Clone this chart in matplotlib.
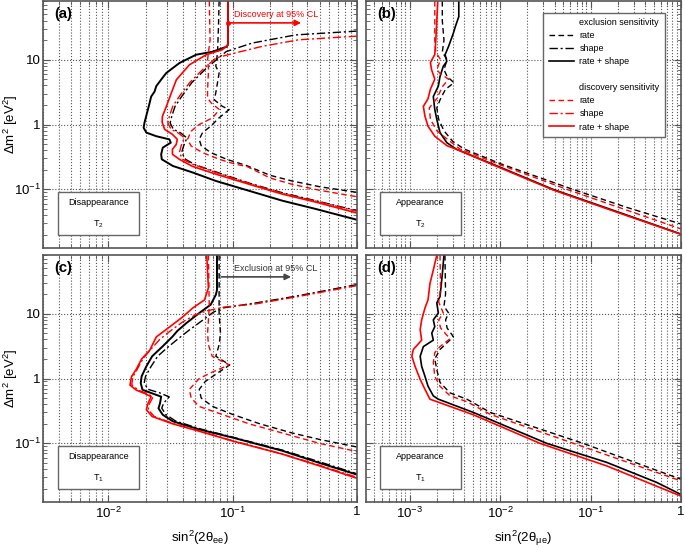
import numpy as np
import matplotlib
matplotlib.use("Agg")
import matplotlib.pyplot as plt
from matplotlib.lines import Line2D
from matplotlib.patches import Rectangle
from matplotlib.ticker import LogLocator, FuncFormatter, NullFormatter

plt.rcParams["font.family"] = ["Liberation Sans", "DejaVu Sans"]
plt.rcParams["mathtext.fontset"] = "custom"
plt.rcParams["mathtext.rm"] = "Liberation Sans"
plt.rcParams["mathtext.it"] = "Liberation Sans:italic"
plt.rcParams["mathtext.bf"] = "Liberation Sans:bold"

# contours as (sin^2 2theta, dm^2 [eV^2]) pairs
# (a) disappearance, T2
a_excl_rate = [(0.078, 80), (0.077, 30), (0.0757, 12.6), (0.0734, 7.9), (0.078, 6.2), (0.0757, 4.4),
               (0.0734, 3.1), (0.0713, 2.4), (0.083, 1.9), (0.094, 1.7), (0.078, 1.27), (0.0667, 0.94),
               (0.0574, 0.75), (0.054, 0.59), (0.056, 0.47), (0.0667, 0.37), (0.09, 0.29), (0.128, 0.235),
               (0.2, 0.165), (0.3, 0.135), (0.5, 0.11), (1.0, 0.09)]
a_excl_shape = [(1.0, 27.5), (0.32, 24.0), (0.144, 18.0), (0.089, 13.3), (0.078, 10.8), (0.06, 7.0),
                (0.047, 4.4), (0.039, 2.7), (0.0345, 1.9), (0.0325, 1.34), (0.0315, 1.06), (0.0335, 0.84),
                (0.038, 0.75), (0.043, 0.62), (0.0405, 0.47), (0.039, 0.37), (0.042, 0.29), (0.05, 0.24),
                (0.083, 0.172), (0.136, 0.125), (0.25, 0.089), (0.465, 0.067), (1.0, 0.047)]
a_excl_both = [(0.092, 80), (0.092, 17), (0.089, 15.7), (0.0687, 13.2), (0.051, 11.9), (0.0374, 8.85),
               (0.0293, 6.2), (0.026, 4.6), (0.0244, 3.9), (0.0236, 3.2), (0.0222, 2.7), (0.0215, 2.1),
               (0.0209, 1.7), (0.0196, 1.06), (0.0193, 0.89), (0.0203, 0.75), (0.0244, 0.66), (0.0311, 0.59),
               (0.0319, 0.525), (0.0275, 0.44), (0.0267, 0.347), (0.027, 0.291), (0.0331, 0.23),
               (0.0479, 0.182), (0.0734, 0.135), (0.136, 0.095), (0.251, 0.067), (0.465, 0.05), (1.0, 0.034)]
a_disc_rate = [(0.065, 80), (0.066, 20), (0.063, 10), (0.0642, 7.0), (0.063, 3.45), (0.063, 2.57),
               (0.0672, 2.16), (0.0782, 1.7), (0.0693, 1.27), (0.054, 1.0), (0.0465, 0.79), (0.0435, 0.59),
               (0.0465, 0.466), (0.0574, 0.369), (0.0782, 0.291), (0.106, 0.244), (0.131, 0.225),
               (0.2, 0.15), (0.3, 0.12), (0.5, 0.097), (1.0, 0.077)]
a_disc_shape = [(1.0, 23), (0.34, 20.2), (0.173, 16), (0.094, 12), (0.0736, 10.6), (0.0574, 7.0),
                (0.045, 4.37), (0.0374, 2.72), (0.0331, 1.91), (0.0311, 1.34), (0.0302, 1.06), (0.0321, 0.84),
                (0.0362, 0.75), (0.041, 0.627), (0.0386, 0.466), (0.0374, 0.369), (0.0398, 0.291),
                (0.0479, 0.244), (0.08, 0.172), (0.136, 0.123), (0.25, 0.087), (0.465, 0.066), (1.0, 0.046)]
a_disc_both = [(0.092, 80), (0.092, 17), (0.0826, 14.2), (0.0615, 11.9), (0.045, 8.3), (0.0354, 4.9),
               (0.0323, 3.1), (0.0294, 1.9), (0.0273, 1.33), (0.0272, 1.08), (0.0285, 0.84), (0.0329, 0.705),
               (0.036, 0.59), (0.0353, 0.494), (0.0329, 0.415), (0.0329, 0.347), (0.0374, 0.291),
               (0.0475, 0.227), (0.074, 0.171), (0.136, 0.12), (0.25, 0.0848), (0.465, 0.0638), (1.0, 0.0432)]

# (b) appearance, T2
b_excl_rate = [(0.0023, 80), (0.0023, 40), (0.0024, 20), (0.0023, 13), (0.0026, 10), (0.0024, 7),
               (0.0026, 5.5), (0.0031, 4.4), (0.0025, 3.5), (0.0022, 2.5), (0.002, 1.8), (0.0021, 1.2),
               (0.0024, 0.8), (0.003, 0.55), (0.004, 0.42), (0.01, 0.25), (0.064, 0.1), (0.25, 0.053),
               (1.0, 0.0293)]
b_excl_both = [(0.0035, 80), (0.0035, 46), (0.0032, 32), (0.00305, 25.6), (0.0027, 16), (0.00247, 11.9),
               (0.00258, 9.4), (0.00236, 7.9), (0.00217, 5.5), (0.00208, 3.9), (0.00183, 2.7), (0.0019, 1.7),
               (0.002, 1.2), (0.00217, 0.75), (0.00258, 0.525), (0.0033, 0.415), (0.01, 0.22),
               (0.0386, 0.1), (0.2, 0.045), (1.0, 0.0205)]
b_disc_rate = [(0.0019, 80), (0.0019, 40), (0.0019, 20), (0.00195, 13), (0.0022, 10), (0.002, 7),
               (0.0022, 6), (0.0027, 5.0), (0.0023, 3.8), (0.002, 2.5), (0.00165, 1.8), (0.0017, 1.2),
               (0.002, 0.8), (0.0028, 0.55), (0.0036, 0.42), (0.01, 0.24), (0.055, 0.1), (0.25, 0.048),
               (1.0, 0.0246)]
b_disc_both = [(0.00205, 80), (0.002, 40), (0.00195, 20), (0.0019, 12), (0.0017, 9), (0.00175, 7),
               (0.0019, 5), (0.0017, 3.5), (0.0016, 2.5), (0.00142, 1.9), (0.00148, 1.34), (0.0016, 0.94),
               (0.0019, 0.66), (0.0026, 0.47), (0.0033, 0.415), (0.01, 0.215), (0.0386, 0.098),
               (0.2, 0.044), (1.0, 0.0203)]

# (c) disappearance, T1
c_excl_rate = [(0.078, 80), (0.078, 10), (0.08, 5), (0.078, 3.3), (0.0734, 2.2), (0.095, 1.62),
               (0.078, 1.26), (0.0604, 0.9), (0.054, 0.68), (0.056, 0.5), (0.0693, 0.37), (0.1, 0.28),
               (0.166, 0.2), (0.3, 0.145), (0.5, 0.115), (1.0, 0.088)]
c_excl_shape = [(1.0, 28), (0.32, 18.5), (0.15, 14.5), (0.083, 12.2), (0.07, 10.5), (0.058, 8.0),
                (0.045, 5.6), (0.036, 4.0), (0.03, 3.0), (0.025, 2.2), (0.022, 1.5), (0.02, 1.08),
                (0.0195, 0.85), (0.021, 0.68), (0.026, 0.6), (0.031, 0.52), (0.028, 0.42), (0.027, 0.35),
                (0.029, 0.28), (0.035, 0.22), (0.056, 0.166), (0.1, 0.125), (0.25, 0.079), (0.5, 0.052),
                (1.0, 0.034)]
c_excl_both = [(0.075, 80), (0.075, 23), (0.0734, 19.5), (0.0667, 13.7), (0.054, 10.2), (0.0424, 7.1),
               (0.036, 5.4), (0.0331, 4.47), (0.0275, 3.14), (0.0226, 2.2), (0.0203, 1.54), (0.0186, 1.08),
               (0.0183, 0.85), (0.0189, 0.67), (0.0226, 0.59), (0.0267, 0.525), (0.0261, 0.41),
               (0.0254, 0.347), (0.0275, 0.276), (0.0331, 0.219), (0.054, 0.164), (0.1, 0.123),
               (0.251, 0.077), (0.5, 0.05), (1.0, 0.033)]
c_disc_rate = [(0.064, 80), (0.065, 12.7), (0.063, 5.0), (0.064, 3.3), (0.0687, 2.2), (0.094, 1.62),
               (0.069, 1.26), (0.054, 1.0), (0.045, 0.68), (0.0465, 0.5), (0.054, 0.37), (0.078, 0.29),
               (0.136, 0.2), (0.25, 0.145), (0.5, 0.1), (1.0, 0.075)]
c_disc_shape = [(1.0, 27), (0.32, 18), (0.15, 14), (0.085, 12.6), (0.062, 11), (0.05, 9.5), (0.04, 7.5),
                (0.032, 5.5), (0.026, 4.0), (0.022, 2.8), (0.019, 2.0), (0.0172, 1.4), (0.0158, 1.06),
                (0.0155, 0.8), (0.0175, 0.66), (0.0205, 0.59), (0.023, 0.52), (0.0215, 0.41), (0.021, 0.33),
                (0.0235, 0.26), (0.034, 0.2), (0.055, 0.155), (0.1, 0.11), (0.25, 0.069), (0.5, 0.046),
                (1.0, 0.03)]
c_disc_both = [(0.062, 80), (0.064, 25), (0.0596, 16.3), (0.0479, 12.2), (0.0398, 8.9), (0.0311, 6.2),
               (0.0244, 4.37), (0.0216, 2.72), (0.0186, 2.0), (0.0169, 1.4), (0.0154, 1.06), (0.015, 0.79),
               (0.0169, 0.66), (0.0196, 0.59), (0.0222, 0.525), (0.0209, 0.41), (0.0203, 0.33),
               (0.0226, 0.26), (0.0331, 0.2), (0.054, 0.154), (0.1, 0.109), (0.25, 0.0685), (0.5, 0.045),
               (1.0, 0.029)]

# (d) appearance, T1
d_excl_rate = [(0.00246, 80), (0.0025, 20), (0.0024, 13), (0.0027, 10.2), (0.0025, 8), (0.0026, 6),
               (0.00305, 4.4), (0.00217, 2.8), (0.0019, 2.0), (0.002, 1.37), (0.00217, 0.87), (0.0028, 0.6),
               (0.0043, 0.48), (0.0078, 0.3), (0.083, 0.1), (1.0, 0.028)]
d_excl_both = [(0.0024, 80), (0.0023, 40), (0.00217, 18.3), (0.002, 14.6), (0.00208, 10.2), (0.00183, 8.0),
               (0.0019, 6.3), (0.00176, 5.0), (0.00183, 3.9), (0.00142, 3.1), (0.00131, 2.2), (0.00136, 1.54),
               (0.00148, 1.08), (0.0016, 0.76), (0.00183, 0.54), (0.00208, 0.48), (0.00507, 0.3),
               (0.0329, 0.1), (0.151, 0.051), (0.54, 0.025), (1.0, 0.0163)]
d_disc_rate = [(0.00217, 80), (0.0022, 25), (0.0021, 15), (0.00236, 10.2), (0.0021, 8), (0.0022, 6),
               (0.0028, 4.1), (0.00217, 3.1), (0.0019, 2.5), (0.00183, 1.75), (0.0019, 1.08), (0.00217, 0.76),
               (0.0028, 0.54), (0.0043, 0.44), (0.0078, 0.28), (0.065, 0.1), (1.0, 0.0264)]
d_disc_both = [(0.002, 80), (0.00185, 50), (0.00168, 29), (0.0016, 16.3), (0.00148, 12.2), (0.00136, 8),
               (0.00131, 5.66), (0.00136, 3.9), (0.0011, 2.8), (0.00106, 2.2), (0.00115, 1.54), (0.00131, 0.97),
               (0.00148, 0.68), (0.00168, 0.48), (0.002, 0.44), (0.00507, 0.276), (0.0277, 0.1),
               (0.151, 0.045), (1.0, 0.0154)]

panel_tags = ["(a)", "(b)", "(c)", "(d)"]
box_titles = ["Disappearance", "Appearance", "Disappearance", "Appearance"]
box_targets = ["T$_2$", "T$_2$", "T$_1$", "T$_1$"]

DASH = (0, (4, 2.5))
DASHDOT = (0, (6, 2, 1.5, 2))
GRID = "#555555"
FRAME = "#555555"


def log_fmt(v, pos):
    if np.isclose(v, 1):
        return "1"
    if np.isclose(v, 10):
        return "10"
    return r"$10^{%d}$" % round(np.log10(v))


def draw(ax, curves):
    for pts, color, ls, lw in curves:
        p = np.array(pts)
        ax.plot(p[:, 0], p[:, 1], color=color, linestyle=ls, lw=lw)


fig = plt.figure(figsize=(6.85, 5.47), dpi=100)
W, H = 685.0, 547.0
ax_a = fig.add_axes([43 / W, 1 - 248 / H, 314 / W, 247 / H])
ax_b = fig.add_axes([366 / W, 1 - 248 / H, 315 / W, 247 / H])
ax_c = fig.add_axes([43 / W, 1 - 502 / H, 314 / W, 247 / H])
ax_d = fig.add_axes([366 / W, 1 - 502 / H, 315 / W, 247 / H])
axes = [ax_a, ax_b, ax_c, ax_d]

draw(ax_a, [(a_excl_shape, "black", DASHDOT, 1.0), (a_excl_rate, "black", DASH, 1.0),
            (a_excl_both, "black", "-", 1.4), (a_disc_shape, "red", DASHDOT, 1.0),
            (a_disc_rate, "red", DASH, 1.0), (a_disc_both, "red", "-", 1.2)])
draw(ax_b, [(b_excl_rate, "black", DASH, 1.0), (b_excl_both, "black", "-", 1.2),
            (b_disc_rate, "red", DASH, 1.0), (b_disc_both, "red", "-", 1.2)])
draw(ax_c, [(c_excl_shape, "black", DASHDOT, 1.0), (c_excl_rate, "black", DASH, 1.0),
            (c_excl_both, "black", "-", 1.4), (c_disc_shape, "red", DASHDOT, 1.0),
            (c_disc_rate, "red", DASH, 1.0), (c_disc_both, "red", "-", 1.2)])
draw(ax_d, [(d_excl_rate, "black", DASH, 1.0), (d_excl_both, "black", "-", 1.2),
            (d_disc_rate, "red", DASH, 1.0), (d_disc_both, "red", "-", 1.2)])

for i, ax in enumerate(axes):
    ax.set_xscale("log")
    ax.set_yscale("log")
    ax.set_xlim(0.003 if i % 2 == 0 else 3.3e-4, 1.0)
    ax.set_ylim(0.0125, 80)
    for axis in (ax.xaxis, ax.yaxis):
        axis.set_major_locator(LogLocator(base=10, numticks=12))
        axis.set_minor_locator(LogLocator(base=10, subs=np.arange(2, 10), numticks=12))
        axis.set_major_formatter(FuncFormatter(log_fmt))
        axis.set_minor_formatter(NullFormatter())
    ax.grid(which="major", axis="both", linestyle=":", color=GRID, lw=0.8)
    ax.grid(which="minor", axis="x", linestyle=":", color=GRID, lw=0.8)
    ax.tick_params(which="both", direction="in", top=True, right=True, color=FRAME,
                   labelsize=9.5, pad=3)
    ax.tick_params(which="major", length=5)
    ax.tick_params(which="minor", length=3)
    ax.tick_params(axis="y", pad=1.5)
    for s in ax.spines.values():
        s.set_color(FRAME)
        s.set_linewidth(1.2)
    if i < 2:
        ax.tick_params(labelbottom=False)
    if i % 2 == 1:
        ax.tick_params(labelleft=False)
    else:
        ax.set_ylabel("Δm$^2$ [eV$^2$]", fontsize=9.5, va="center")
        ax.yaxis.set_label_coords(-0.101, 0.5)

    ax.text(0.035, 0.975, panel_tags[i], transform=ax.transAxes, fontsize=10.5,
            fontweight="bold", ha="left", va="top")
    bx = 0.048 if i % 2 == 0 else 0.044
    ax.add_patch(Rectangle((bx, 0.053), 0.258, 0.174, transform=ax.transAxes,
                           facecolor="white", edgecolor="#666666", lw=1.0, zorder=5))
    ax.text(bx + 0.129, 0.186, box_titles[i], transform=ax.transAxes, fontsize=6.5,
            ha="center", va="center", zorder=6)
    ax.text(bx + 0.129, 0.097, box_targets[i], transform=ax.transAxes, fontsize=6.5,
            ha="center", va="center", zorder=6)

ax_c.set_xlabel("sin$^2$(2θ$_{\\mathrm{ee}}$)", fontsize=9.5, labelpad=5)
ax_d.set_xlabel("sin$^2$(2θ$_{\\mathrm{μe}}$)", fontsize=9.5, labelpad=5)

# arrows marking the allowed side of the contours
ax_a.annotate("", xy=(0.374, 36.8), xytext=(0.092, 36.8),
              arrowprops=dict(arrowstyle="-|>", color="red", lw=1.2, mutation_scale=9))
ax_a.plot([0.092], [36.8], "o", color="red", ms=2.5)
ax_a.text(0.103, 50, "Discovery at 95% CL", color="red", fontsize=6.5, ha="left", va="center")
ax_c.annotate("", xy=(0.311, 36.8), xytext=(0.077, 36.8),
              arrowprops=dict(arrowstyle="-|>", color="#444444", lw=1.2, mutation_scale=9))
ax_c.text(0.103, 50, "Exclusion at 95% CL", color="#333333", fontsize=6.5, ha="left", va="center")

# legend
blank = Line2D([], [], color="none")
handles = [blank,
           Line2D([], [], color="black", linestyle=DASH, lw=1.0),
           Line2D([], [], color="black", linestyle=DASHDOT, lw=1.0),
           Line2D([], [], color="black", lw=1.2),
           blank, blank,
           Line2D([], [], color="red", linestyle=DASH, lw=1.0),
           Line2D([], [], color="red", linestyle=DASHDOT, lw=1.0),
           Line2D([], [], color="red", lw=1.2)]
labels = ["exclusion sensitivity", "rate", "shape", "rate + shape", "",
          "discovery sensitivity", "rate", "shape", "rate + shape"]
leg = ax_b.legend(handles, labels, loc="upper right", bbox_to_anchor=(0.949, 0.953),
                  borderaxespad=0, fontsize=6.5, handlelength=2.8, handletextpad=0.6,
                  labelspacing=0.45, fancybox=False, framealpha=1, borderpad=0.6)
leg.get_frame().set_edgecolor("#666666")
leg.get_frame().set_linewidth(1.0)

fig.savefig("out.png", dpi=100)
